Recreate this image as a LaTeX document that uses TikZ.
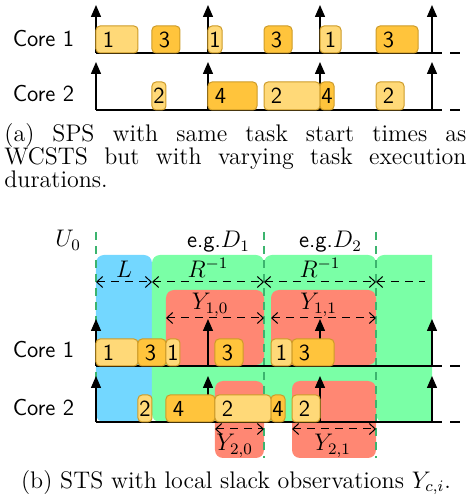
\documentclass[tikz,border=0pt]{standalone}
\usetikzlibrary{arrows.meta}

\definecolor{tasklight}{HTML}{FFD978}
\definecolor{taskdark}{HTML}{FFC43C}
\definecolor{taskedge}{HTML}{CD9B28}
\definecolor{latblue}{HTML}{73D7FF}
\definecolor{pergreen}{HTML}{7AFFA6}
\definecolor{slackred}{HTML}{FF8773}
\definecolor{bound}{HTML}{3CB46E}

\tikzset{
    task/.style = {draw = taskedge, line width = 0.5pt, rounded corners = 2pt},
    core/.style = {anchor = base east},
    axis/.style = {line width = 0.75pt},
    tail/.style = {line width = 0.75pt, dash pattern = on 5pt off 4pt},
    release/.style = {line width = 0.7pt, -{Triangle[length = 6pt, width = 5pt]}},
    region/.style = {rounded corners = 4pt},
    span/.style = {line width = 0.5pt, dash pattern = on 4pt off 3pt,
        >={Straight Barb[length = 3pt, width = 5.5pt]}},
    instant/.style = {bound, line width = 0.6pt, dash pattern = on 4pt off 3pt}
}

\begin{document}
\begin{tikzpicture}[x = 7pt, y = 0.5pt, font = \fontsize{11.5}{13}\selectfont\sffamily]
    \useasboundingbox (-6.857, 0) rectangle (26.643, 498);

    % (a) same start times, varying durations
    \node[core] (c1a) at (-1.05, 451) {Core 1};
    \node[core] (c2a) at (-1.05, 396) {Core 2};
    \foreach \t in {0, 8, 16, 24} {
        \draw[release] (\t, 445) -- (\t, 493);
        \draw[release] (\t, 388) -- (\t, 436);
    }
    \draw[axis] (0, 445) -- (24, 445);
    \draw[tail] (24, 445) -- (26, 445);
    \draw[axis] (0, 388) -- (24, 388);
    \draw[tail] (24, 388) -- (26, 388);
    % label sits 0.9 in from the start, or centred if the job is short
    \draw[task, fill = tasklight] (0, 445) rectangle (3, 472) (0.9, 458.5) node (a11) {1};
    \draw[task, fill = taskdark] (4, 445) rectangle (6, 472) (4.9, 458.5) node (a12) {3};
    \draw[task, fill = tasklight] (8, 445) rectangle (9, 472) (8.5, 458.5) node (a13) {1};
    \draw[task, fill = taskdark] (12, 445) rectangle (14, 472) (12.9, 458.5) node (a14) {3};
    \draw[task, fill = tasklight] (16, 445) rectangle (17.5, 472) (16.75, 458.5) node (a15) {1};
    \draw[task, fill = taskdark] (20, 445) rectangle (23, 472) (20.9, 458.5) node (a16) {3};
    \draw[task, fill = tasklight] (4, 388) rectangle (5, 416) (4.5, 402) node (a21) {2};
    \draw[task, fill = taskdark] (8, 388) rectangle (11.5, 416) (8.9, 402) node (a22) {4};
    \draw[task, fill = tasklight] (12, 388) rectangle (16, 416) (12.9, 402) node (a23) {2};
    \draw[task, fill = taskdark] (16, 388) rectangle (17, 416) (16.5, 402) node (a24) {4};
    \draw[task, fill = tasklight] (20, 388) rectangle (22, 416) (20.9, 402) node (a25) {2};
    \node[anchor = base west, inner sep = 0, font = \rmfamily] (capa) at (-6.571, 356)
        {\parbox[t]{231pt}{\fontsize{12}{11.5}\selectfont\lineskiplimit=-10pt
        (a) SPS with same task start times as\linebreak WCSTS but with varying task
        execution\linebreak durations.}};

    % (b) slack windows
    \fill[region, latblue] (0, 76) rectangle (4, 243);
    \fill[region, pergreen] (4, 76) rectangle (12, 243);
    \fill[region, pergreen] (12, 76) rectangle (20, 243);
    \begin{scope}
        \clip (20, 0) rectangle (24, 300);
        \fill[region, pergreen] (20, 76) rectangle (28, 243);
    \end{scope}
    \fill[region, slackred] (5, 133) rectangle (12, 208);
    \fill[region, slackred] (12.5, 133) rectangle (20, 208);
    \fill[region, slackred] (8.5, 40) rectangle (12, 117);
    \fill[region, slackred] (14, 40) rectangle (20, 117);
    \draw[instant] (0, 266) -- (0, 76);
    \draw[instant] (12, 266) -- (12, 40);
    \draw[instant] (20, 266) -- (20, 40);
    \node[anchor = base east] (u0) at (-0.57, 251) {$U_0$};
    \node[anchor = base east] (d1) at (11.5, 250) {e.g.$D_1$};
    \node[anchor = base east] (d2) at (19.5, 250) {e.g.$D_2$};

    \draw[span, <->] (0, 216) -- (4, 216) node[midway, above, inner sep = 2pt] (lat) {$L$};
    \draw[span, <->] (4, 216) -- (12, 216) node[midway, above, inner sep = 2pt] (per0) {$R^{-1}$};
    \draw[span, <->] (12, 216) -- (20, 216) node[midway, above, inner sep = 2pt] (per1) {$R^{-1}$};
    \draw[span, <-] (20, 216) -- (23.5, 216);
    \draw[span, <->] (5, 180) -- (12, 180);
    \draw[span, <->] (12.5, 180) -- (20, 180);
    \draw[span, <->] (8.5, 69) -- (12, 69);
    \draw[span, <->] (14, 69) -- (20, 69);

    \node[core] (c1b) at (-1.05, 140) {Core 1};
    \node[core] (c2b) at (-1.05, 83) {Core 2};
    \foreach \t in {0, 8, 16, 24} {
        \draw[release] (\t, 132) -- (\t, 179);
        \draw[release] (\t, 76) -- (\t, 122);
    }
    \draw[axis] (0, 132) -- (24, 132);
    \draw[tail] (24, 132) -- (26, 132);
    \draw[axis] (0, 76) -- (24, 76);
    \draw[tail] (24, 76) -- (26, 76);
    \draw[task, fill = tasklight] (0, 132) rectangle (3, 159) (0.9, 145.5) node (b11) {1};
    \draw[task, fill = taskdark] (3, 132) rectangle (5, 159) (3.9, 145.5) node (b12) {3};
    \draw[task, fill = tasklight] (5, 132) rectangle (6, 159) (5.5, 145.5) node (b13) {1};
    \draw[task, fill = taskdark] (8.5, 132) rectangle (10.5, 159) (9.4, 145.5) node (b14) {3};
    \draw[task, fill = tasklight] (12.5, 132) rectangle (14, 159) (13.25, 145.5) node (b15) {1};
    \draw[task, fill = taskdark] (14, 132) rectangle (17, 159) (14.9, 145.5) node (b16) {3};
    \draw[task, fill = tasklight] (3, 76) rectangle (4, 103) (3.5, 89.5) node (b21) {2};
    \draw[task, fill = taskdark] (5, 76) rectangle (8.5, 103) (5.9, 89.5) node (b22) {4};
    \draw[task, fill = tasklight] (8.5, 76) rectangle (12.5, 103) (9.4, 89.5) node (b23) {2};
    \draw[task, fill = taskdark] (12.5, 76) rectangle (13.5, 103) (13, 89.5) node (b24) {4};
    \draw[task, fill = tasklight] (14, 76) rectangle (16, 103) (14.9, 89.5) node (b25) {2};

    \node[anchor = base] (y10) at (8.15, 188) {$Y_{1,0}$};
    \node[anchor = base] (y11) at (15.9, 188) {$Y_{1,1}$};
    \node[anchor = base] (y20) at (9.9, 47) {$Y_{2,0}$};
    \node[anchor = base] (y21) at (16.9, 47) {$Y_{2,1}$};

    \node[anchor = base, font = \rmfamily\fontsize{12}{14}\selectfont] (capb) at (10, 10)
        {(b) STS with local slack observations $Y_{c,i}$.};
\end{tikzpicture}
\end{document}
